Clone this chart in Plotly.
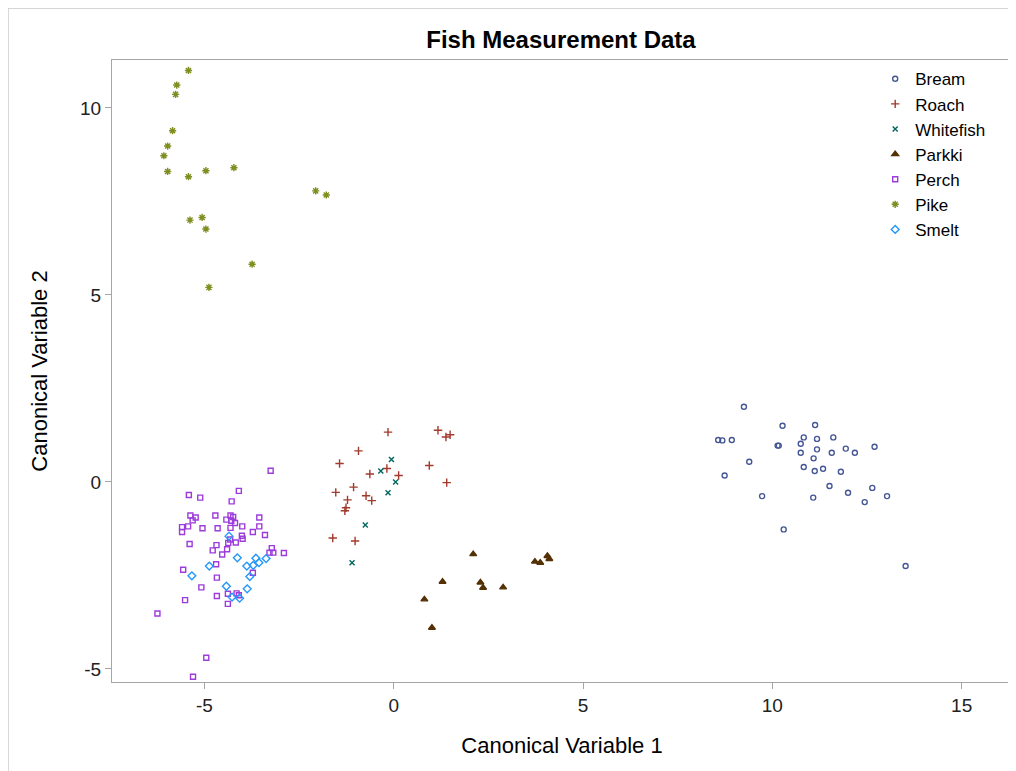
import plotly.graph_objects as go

# ---- data (Canonical Variable 1, Canonical Variable 2) ----
bream_x = [9.25, 10.27, 11.13, 8.57, 8.68, 8.93, 10.83, 11.18, 11.61, 10.14, 10.17, 10.75, 12.70, 11.94, 11.18,
           10.75, 11.57, 12.18, 11.09, 9.39, 10.83, 11.12, 11.34, 11.81, 8.74, 11.51, 12.64, 12.00, 9.73, 11.08,
           13.03, 12.44, 10.30, 13.52]
bream_y = [2.01, 1.50, 1.52, 1.12, 1.11, 1.12, 1.19, 1.15, 1.19, 0.97, 0.97, 1.02, 0.94, 0.89, 0.87,
           0.78, 0.78, 0.78, 0.63, 0.54, 0.40, 0.29, 0.35, 0.27, 0.17, -0.11, -0.16, -0.29, -0.38, -0.42,
           -0.38, -0.54, -1.27, -2.25]

roach_x = [-0.15, 1.17, 1.38, 1.49, -0.93, -1.43, -0.18, 0.94, -0.63, 0.13, 1.40, -1.06, -1.53, -0.73,
           -1.22, -0.58, -1.26, -1.29, -1.61, -1.02]
roach_y = [1.33, 1.38, 1.20, 1.26, 0.83, 0.49, 0.36, 0.44, 0.21, 0.17, -0.02, -0.14, -0.28, -0.37,
           -0.48, -0.50, -0.69, -0.77, -1.50, -1.58]

whitefish_x = [-0.06, -0.34, 0.05, -0.15, -0.75, -1.10]
whitefish_y = [0.60, 0.29, 0.00, -0.29, -1.15, -2.16]

parkki_x = [2.10, 3.73, 3.87, 4.06, 4.11, 1.29, 2.29, 2.36, 2.89, 0.81, 1.01]
parkki_y = [-1.93, -2.13, -2.16, -1.98, -2.06, -2.67, -2.69, -2.83, -2.82, -3.14, -3.90]

perch_x = [-3.25, -5.41, -5.11, -4.09, -4.28, -5.37, -5.23, -5.31, -4.71, -4.31, -4.24, -4.42, -4.29, -4.19,
           -3.55, -5.59, -5.59, -5.43, -5.05, -4.65, -4.31, -4.00, -3.55, -3.72, -3.40, -4.01, -3.99, -4.32,
           -4.37, -4.17, -5.39, -4.68, -4.78, -4.40, -4.53, -3.22, -3.28, -3.18, -2.90, -4.69, -5.56, -3.72,
           -4.67, -5.08, -5.51, -4.67, -4.38, -4.15, -4.09, -4.38, -6.24, -4.95, -5.30]
perch_y = [0.30, -0.35, -0.42, -0.24, -0.52, -0.90, -0.95, -1.03, -0.90, -0.90, -0.94, -1.01, -1.04, -1.10,
           -0.95, -1.21, -1.34, -1.19, -1.24, -1.24, -1.23, -1.19, -1.19, -1.34, -1.42, -1.44, -1.52, -1.54,
           -1.63, -1.62, -1.66, -1.69, -1.83, -1.80, -1.94, -1.77, -1.89, -1.89, -1.90, -2.20, -2.35, -2.43,
           -2.56, -2.82, -3.16, -3.05, -2.99, -2.98, -3.03, -3.26, -3.52, -4.70, -5.21]

pike_x = [-5.42, -5.73, -5.76, -5.84, -5.97, -6.07, -5.97, -5.42, -4.96, -4.22, -2.06, -1.78, -5.38, -5.06,
          -4.96, -3.74, -4.88]
pike_y = [11.00, 10.61, 10.36, 9.39, 8.98, 8.72, 8.30, 8.16, 8.32, 8.40, 7.78, 7.67, 7.00, 7.07,
          6.76, 5.82, 5.20]

smelt_x = [-4.35, -4.13, -4.87, -5.33, -3.64, -3.56, -3.37, -3.88, -3.71, -3.80, -4.42, -3.87, -4.27, -4.07]
smelt_y = [-1.45, -2.03, -2.25, -2.51, -2.04, -2.16, -2.05, -2.25, -2.23, -2.53, -2.79, -2.86, -3.08, -3.11]

x_ticks = [-5, 0, 5, 10, 15]
x_tick_labels = ["-5", "0", "5", "10", "15"]
y_ticks = [-5, 0, 5, 10]
y_tick_labels = ["-5", "0", "5", "10"]

series = [
    ("Bream", bream_x, bream_y, "circle-open", "#445694", 5),
    ("Roach", roach_x, roach_y, "cross-thin-open", "#A23A2E", 6),
    ("Whitefish", whitefish_x, whitefish_y, "x-thin-open", "#01665E", 5),
    ("Parkki", parkki_x, parkki_y, "triangle-up", "#543005", 6),
    ("Perch", perch_x, perch_y, "square-open", "#9D3CDB", 5),
    ("Pike", pike_x, pike_y, "asterisk-open", "#7F8E1F", 6),
    ("Smelt", smelt_x, smelt_y, "diamond-open", "#2597FA", 6),
]

FONT = "Liberation Sans, Arial, sans-serif"
fig = go.Figure()
for name, xs, ys, sym, col, sz in series:
    fig.add_trace(go.Scatter(
        x=xs, y=ys, mode="markers", name=name,
        marker=dict(symbol=sym, color=col, size=sz, line=dict(color=col, width=1.4)),
    ))

axis_common = dict(
    showgrid=False, zeroline=False, showline=True, mirror=True,
    linecolor="#A5A5A5", linewidth=1.3,
    ticks="outside", ticklen=6, tickcolor="#A5A5A5", tickwidth=1.3,
    tickfont=dict(family=FONT, size=19, color="#222222"),
)

fig.update_layout(
    width=1008, height=763,
    margin=dict(l=104, r=4, t=52, b=89),
    paper_bgcolor="white", plot_bgcolor="white",
    title=dict(text="<b>Fish Measurement Data</b>", x=0.5486, xanchor="center",
               y=0.958, yanchor="middle",
               font=dict(family=FONT, size=24, color="black")),
    xaxis=dict(range=[-7.44, 16.33], tickvals=x_ticks, ticktext=x_tick_labels,
               title=dict(text="Canonical Variable 1", font=dict(family=FONT, size=22, color="black"),
                          standoff=22),
               **axis_common),
    yaxis=dict(range=[-5.35, 11.28], tickvals=y_ticks, ticktext=y_tick_labels,
               title=dict(text="Canonical Variable 2", font=dict(family=FONT, size=22, color="black"),
                          standoff=26),
               **axis_common),
    legend=dict(x=0.848, y=0.998, xanchor="left", yanchor="top",
                bgcolor="rgba(0,0,0,0)", font=dict(family=FONT, size=17, color="black"),
                itemwidth=30, tracegroupgap=0),
    showlegend=True,
    shapes=[dict(type="rect", xref="paper", yref="paper",
                 x0=-0.1156, x1=1.0033, y0=-0.2, y1=1.0836,
                 line=dict(color="#C8C8C8", width=1.5), fillcolor="rgba(0,0,0,0)", layer="below")],
)

fig.write_html("out.html")
